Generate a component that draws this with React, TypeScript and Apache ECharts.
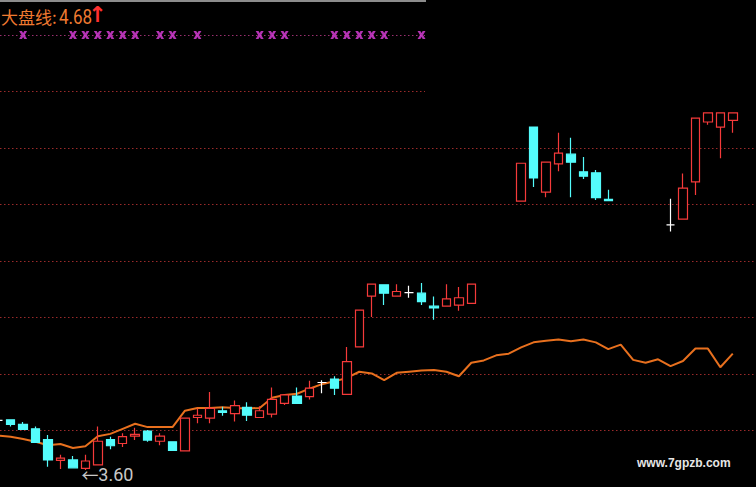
import React, { useEffect, useRef } from 'react';
import * as echarts from 'echarts';

// category slots (one per trading day shown, first one is partly off-screen)
const categories: string[] = Array.from({ length: 61 }, (_, i) => `D${i + 1}`);

const opens: (number | null)[] = [
  3.688, 3.689, 3.681, 3.673, 3.654, 3.617, 3.618, 3.603, 3.609, 3.654,
  3.647, 3.660, 3.669, 3.651, 3.650, 3.634, 3.693, 3.692, 3.705, 3.700,
  3.711, 3.693, 3.699, 3.718, 3.731, 3.730, 3.755, 3.761, 3.734, 3.818,
  3.908, 3.928, 3.908, 3.914, 3.913, 3.890, 3.890, 3.892, 3.895, null,
  null, null, 4.076, 4.207, 4.092, 4.142, 4.159, 4.128, 4.126, 4.079,
  null, null, null, null, 4.034, 4.044, 4.110, 4.216, 4.207, 4.219,
];
const closes: (number | null)[] = [
  3.688, 3.681, 3.672, 3.649, 3.618, 3.621, 3.604, 3.616, 3.651, 3.643,
  3.659, 3.663, 3.653, 3.660, 3.635, 3.692, 3.697, 3.709, 3.702, 3.714,
  3.697, 3.705, 3.725, 3.733, 3.718, 3.745, 3.755, 3.745, 3.792, 3.883,
  3.929, 3.913, 3.916, 3.914, 3.898, 3.887, 3.903, 3.905, 3.929, null,
  null, null, 4.143, 4.117, 4.145, 4.161, 4.145, 4.120, 4.082, 4.077,
  null, null, null, null, 4.034, 4.099, 4.223, 4.232, 4.232, 4.232,
];
const lows: (number | null)[] = [
  3.687, 3.677, 3.671, 3.648, 3.606, 3.602, 3.603, 3.600, 3.608, 3.637,
  3.641, 3.653, 3.650, 3.644, 3.634, 3.633, 3.683, 3.683, 3.696, 3.686,
  3.687, 3.692, 3.693, 3.715, 3.717, 3.725, 3.736, 3.733, 3.733, 3.817,
  3.871, 3.892, 3.907, 3.905, 3.892, 3.866, 3.889, 3.882, 3.894, null,
  null, null, 4.075, 4.101, 4.083, 4.129, 4.083, 4.115, 4.078, 4.077,
  null, null, null, null, 4.022, 4.043, 4.087, 4.211, 4.152, 4.197,
];
const highs: (number | null)[] = [
  3.689, 3.690, 3.685, 3.677, 3.662, 3.627, 3.625, 3.627, 3.677, 3.659,
  3.665, 3.675, 3.671, 3.665, 3.651, 3.693, 3.709, 3.738, 3.712, 3.723,
  3.720, 3.713, 3.746, 3.734, 3.746, 3.758, 3.759, 3.766, 3.818, 3.884,
  3.929, 3.929, 3.929, 3.926, 3.931, 3.907, 3.929, 3.924, 3.929, null,
  null, null, 4.143, 4.208, 4.146, 4.197, 4.188, 4.154, 4.131, 4.096,
  null, null, null, null, 4.080, 4.125, 4.224, 4.232, 4.232, 4.232,
];

// 大盘线 (market line)
const marketLine: number[] = [
  3.661, 3.659, 3.655, 3.650, 3.644, 3.646, 3.639, 3.642, 3.660, 3.664,
  3.673, 3.682, 3.676, 3.676, 3.676, 3.705, 3.710, 3.710, 3.711, 3.710,
  3.709, 3.710, 3.728, 3.733, 3.735, 3.744, 3.752, 3.757, 3.763, 3.774,
  3.771, 3.759, 3.772, 3.774, 3.776, 3.777, 3.774, 3.766, 3.790, 3.794,
  3.803, 3.806, 3.817, 3.826, 3.829, 3.831, 3.828, 3.831, 3.826, 3.814,
  3.822, 3.795, 3.790, 3.796, 3.784, 3.793, 3.815, 3.815, 3.782, 3.806,
];

// signal markers on the top indicator line (category indexes)
const signalDays: number[] = [2, 6, 7, 8, 9, 10, 11, 13, 14, 16, 21, 22, 23, 27, 28, 29, 30, 31, 34];

const titleName = '大盘线:';
const titleValue = '4.68';
const watermark = 'www.7gpzb.com';

const RED = '#f53a3a';
const CYAN = '#54fcfc';
const GRID_RED = '#9a2a2a';
const SHIFT = 8; // chart canvas starts 8px left of the page edge

export default function App() {
  const ref = useRef<HTMLDivElement>(null);
  useEffect(() => {
    document.body.style.margin = '0';
    document.body.style.background = '#000';
    document.body.style.overflow = 'hidden';
    if (!ref.current) return;
    const chart = echarts.init(ref.current, undefined, { renderer: 'svg' });
    const candleData = opens.map((o, i) =>
      o == null ? '-' : [o, closes[i], lows[i], highs[i]]
    );
    const splitAxisCommon = {
      axisLine: { show: false },
      axisTick: { show: false },
      axisLabel: { show: false },
    };
    chart.setOption({
      animation: false,
      backgroundColor: '#000',
      grid: [
        { left: 0, right: 4.55, top: 35, bottom: 0 },
        { left: SHIFT, right: 0, top: 148, bottom: 56.5 },
        { left: SHIFT, width: 425, top: 35, height: 56.5 },
      ],
      xAxis: [
        { type: 'category', gridIndex: 0, data: categories, show: false, boundaryGap: true },
        { type: 'value', gridIndex: 1, min: 0, max: 1, show: false },
        { type: 'value', gridIndex: 2, min: 0, max: 1, show: false },
      ],
      yAxis: [
        { type: 'value', gridIndex: 0, min: 3.57, max: 4.37, show: false },
        { type: 'value', gridIndex: 0, min: 0, max: 8, show: false },
        {
          type: 'value', gridIndex: 1, min: 0, max: 5, interval: 1, ...splitAxisCommon,
          splitLine: { show: true, lineStyle: { color: GRID_RED, type: [1.5, 2.5], width: 1 } },
        },
        {
          type: 'value', gridIndex: 2, min: 0, max: 1, interval: 1, ...splitAxisCommon,
          splitLine: { show: true, lineStyle: { color: [GRID_RED, '#9a3070'], type: [1.5, 2.5], width: 1 } },
        },
      ],
      graphic: [
        { type: 'line', shape: { x1: SHIFT, y1: 1, x2: SHIFT + 426, y2: 1 }, style: { stroke: '#8c8c8c', lineWidth: 2 } },
        {
          type: 'text', x: SHIFT + 1, y: 16.5,
          style: { text: titleName, fill: '#f07a30', font: '17px "Noto Sans CJK SC"', textVerticalAlign: 'middle' },
        },
        {
          type: 'text', x: SHIFT + 59, y: 17, scaleY: 1.15,
          style: { text: titleValue, fill: '#f07a30', font: '17px Roboto', textVerticalAlign: 'middle' },
        },
        {
          type: 'text', x: SHIFT + 97.5, y: 14,
          style: { text: '↑', fill: '#ff3030', font: 'bold 22px "DejaVu Sans"', textAlign: 'center', textVerticalAlign: 'middle' },
        },
        {
          type: 'text', x: SHIFT + 637, y: 462.5,
          style: { text: watermark, fill: '#e6e6e6', font: 'bold 12px "Liberation Sans"', textVerticalAlign: 'middle' },
        },
      ],
      series: [
        {
          type: 'line',
          xAxisIndex: 0, yAxisIndex: 0,
          data: marketLine,
          showSymbol: false,
          symbol: 'none',
          lineStyle: { color: '#e8701e', width: 2 },
          z: 1,
        },
        {
          type: 'candlestick',
          xAxisIndex: 0, yAxisIndex: 0,
          data: candleData,
          barWidth: 9,
          itemStyle: {
            color: '#000',
            color0: CYAN,
            borderColor: RED,
            borderColor0: CYAN,
            borderColorDoji: '#ffffff',
            borderWidth: 1.2,
          },
          markPoint: {
            symbol: 'circle',
            symbolSize: 0,
            data: [{ type: 'min', valueDim: 'lowest' }],
            label: {
              show: true,
              position: 'right',
              distance: 0,
              offset: [-4, 4],
              formatter: (p: any) => '{a|←}{b|' + Number(p.value).toFixed(2) + '}',
              rich: {
                a: { color: '#c8c8c8', fontSize: 17, fontFamily: 'Noto Sans CJK SC' },
                b: { color: '#c8c8c8', fontSize: 18, fontFamily: 'Roboto' },
              },
            },
          },
          z: 2,
        },
        {
          type: 'scatter',
          xAxisIndex: 0, yAxisIndex: 1,
          data: signalDays.map((d) => [d, 8]),
          symbol: 'path://M0,0L3.5,0L5,2.5L6.5,0L10,0L7,5L10,10L6.5,10L5,7.5L3.5,10L0,10L3,5Z',
          symbolSize: 8,
          itemStyle: { color: '#e040e0' },
          clip: false,
          z: 3,
        },
      ],
    });
    return () => chart.dispose();
  }, []);
  return (
    <div
      ref={ref}
      style={{ position: 'absolute', left: -SHIFT, top: 0, width: 756 + SHIFT, height: 487, background: '#000' }}
    />
  );
}
